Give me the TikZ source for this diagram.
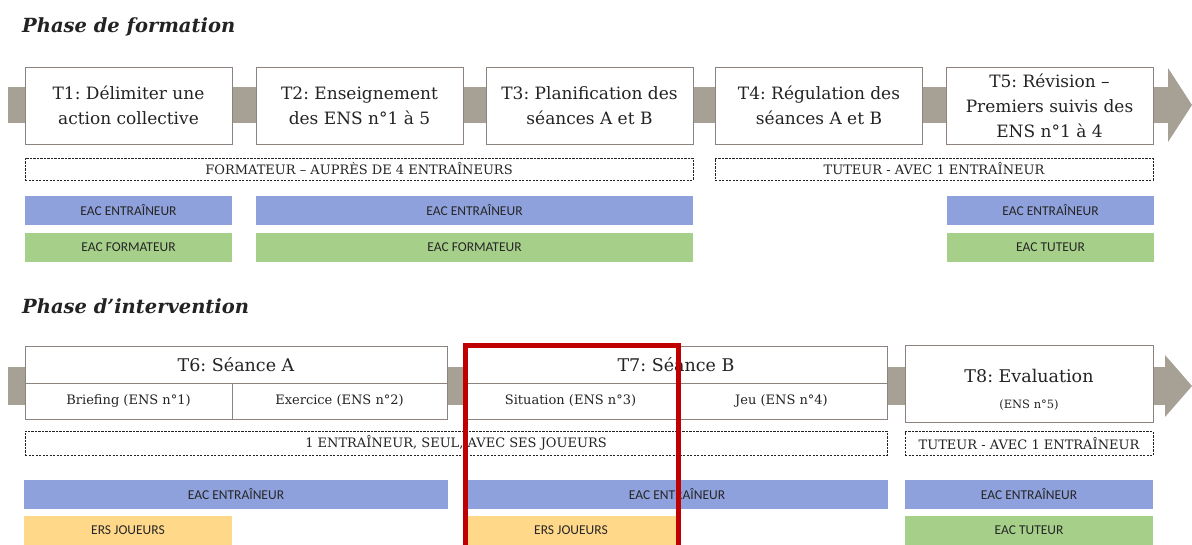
\documentclass[tikz,border=0pt]{standalone}
\usepackage{fontspec}
\setmainfont{DejaVu Serif}
\newfontfamily\calibrifont{Carlito}
\usetikzlibrary{arrows.meta}
\definecolor{boxgray}{RGB}{140,131,126}
\definecolor{bandgray}{RGB}{166,160,149}
\definecolor{eacblue}{RGB}{143,161,220}
\definecolor{eacgreen}{RGB}{166,208,138}
\definecolor{ersorange}{RGB}{255,216,138}
\definecolor{focusred}{RGB}{192,0,0}
\definecolor{inkgray}{RGB}{35,35,35}
\frenchspacing

\begin{document}
\begin{tikzpicture}[x=1pt, y=-1pt,
    task/.style={draw=boxgray, line width=1pt, fill=white, text=inkgray, align=center, inner sep=0pt, font=\fontsize{17}{25}\selectfont},
    cell/.style={task, font=\fontsize{13}{15}\selectfont},
    role/.style={draw=inkgray, dash pattern=on 2.2pt off 1.3pt, line width=0.9pt, text=inkgray, inner sep=0pt, font=\fontsize{13}{15}\selectfont},
    bar/.style={inner sep=0pt, text=black!85, font=\calibrifont\fontsize{13.5}{15}\selectfont},
    flow/.style={draw=bandgray, line width=36pt, -{Triangle[length=24pt, width=74pt, line width=0pt]}},
    phase/.style={anchor=base west, inner sep=0pt, text=inkgray, font=\fontsize{19.5}{22}\selectfont\bfseries\itshape}
  ]
  \useasboundingbox (0,0) rectangle (1192,544);

  % Phase de formation
  \node[phase] (formation) at (22,32) {Phase de formation};
  \coordinate (flowA-start) at (8,105);
  \coordinate (flowA-end) at (1192,105);
  \draw[flow] (flowA-start) -- (flowA-end);

  \node[task, minimum width=207, minimum height=77] (t1) at (128.5,105.5) {T1: Délimiter une\\action collective};
  \node[task, minimum width=207, minimum height=77] (t2) at (359.5,105.5) {T2: Enseignement\\des ENS n°1 à 5};
  \node[task, minimum width=207, minimum height=77] (t3) at (589.5,105.5) {T3: Planification des\\séances A et B};
  \node[task, minimum width=207, minimum height=77] (t4) at (819,105.5) {T4: Régulation des\\séances A et B};
  \node[task, minimum width=207, minimum height=77] (t5) at (1049.5,105.5) {T5: Révision –\\Premiers suivis des\\ENS n°1 à 4};

  \node[role, minimum width=668, minimum height=22] (formateur) at (359,169) {FORMATEUR – AUPRÈS DE 4 ENTRAÎNEURS};
  \node[role, minimum width=438, minimum height=22] (tuteurA) at (934,169) {TUTEUR - AVEC 1 ENTRAÎNEUR};

  \node[bar, fill=eacblue, minimum width=207, minimum height=29] (eacA1) at (128.5,210.5) {EAC ENTRAÎNEUR};
  \node[bar, fill=eacblue, minimum width=437, minimum height=29] (eacA2) at (474.5,210.5) {EAC ENTRAÎNEUR};
  \node[bar, fill=eacblue, minimum width=207, minimum height=29] (eacA3) at (1050.5,210.5) {EAC ENTRAÎNEUR};
  \node[bar, fill=eacgreen, minimum width=207, minimum height=29] (formA1) at (128.5,247.5) {EAC FORMATEUR};
  \node[bar, fill=eacgreen, minimum width=437, minimum height=29] (formA2) at (474.5,247.5) {EAC FORMATEUR};
  \node[bar, fill=eacgreen, minimum width=207, minimum height=29] (tutA3) at (1050.5,247.5) {EAC TUTEUR};

  % Phase d'intervention
  \node[phase] (intervention) at (22,313) {Phase d’intervention};
  \coordinate (flowB-start) at (8,386);
  \coordinate (flowB-end) at (1192,386);
  \draw[flow, line width=38pt, -{Triangle[length=27pt, width=62pt, line width=0pt]}] (flowB-start) -- (flowB-end);

  \node[task, minimum width=422, minimum height=37, font=\fontsize{17.5}{20}\selectfont] (t6) at (236,364.5) {T6: Séance A};
  \node[cell, minimum width=207, minimum height=36] (briefing) at (128.5,401) {Briefing (ENS n°1)};
  \node[cell, minimum width=215, minimum height=36] (exercice) at (339.5,401) {Exercice (ENS n°2)};
  \node[task, minimum width=422, minimum height=37, font=\fontsize{17.5}{20}\selectfont] (t7) at (676,364.5) {T7: Séance B};
  \node[cell, minimum width=211, minimum height=36] (situation) at (570.5,401) {Situation (ENS n°3)};
  \node[cell, minimum width=211, minimum height=36] (jeu) at (781.5,401) {Jeu (ENS n°4)};
  \node[task, minimum width=248, minimum height=77, font=\fontsize{17.5}{20}\selectfont] (t8) at (1029,383.5) {\rule{0pt}{26pt}T8: Evaluation\\[6pt]{\fontsize{11.5}{13}\selectfont (ENS n°5)}};

  \node[role, minimum width=862, minimum height=24] (seul) at (456,443) {1 ENTRAÎNEUR, SEUL, AVEC SES JOUEURS};
  \node[role, minimum width=248, minimum height=24] (tuteurB) at (1029,443.5) {TUTEUR - AVEC 1 ENTRAÎNEUR};

  \node[bar, fill=eacblue, minimum width=424, minimum height=29] (eacB1) at (236,494.5) {EAC ENTRAÎNEUR};
  \node[bar, fill=eacblue, minimum width=422, minimum height=29] (eacB2) at (677,494.5) {EAC ENTRAÎNEUR};
  \node[bar, fill=eacblue, minimum width=248, minimum height=29] (eacB3) at (1029,494.5) {EAC ENTRAÎNEUR};
  \node[bar, fill=ersorange, minimum width=208, minimum height=29] (ersB1) at (128,530.5) {ERS JOUEURS};
  \node[bar, fill=ersorange, minimum width=210, minimum height=29] (ersB2) at (571,530.5) {ERS JOUEURS};
  \node[bar, fill=eacgreen, minimum width=248, minimum height=29] (tutB3) at (1029,530.5) {EAC TUTEUR};

  % Focus on situation
  \node[draw=focusred, line width=5pt, minimum width=212.5, minimum height=204.5, inner sep=0pt] (focus) at (571.75,447.75) {};
\end{tikzpicture}
\end{document}
